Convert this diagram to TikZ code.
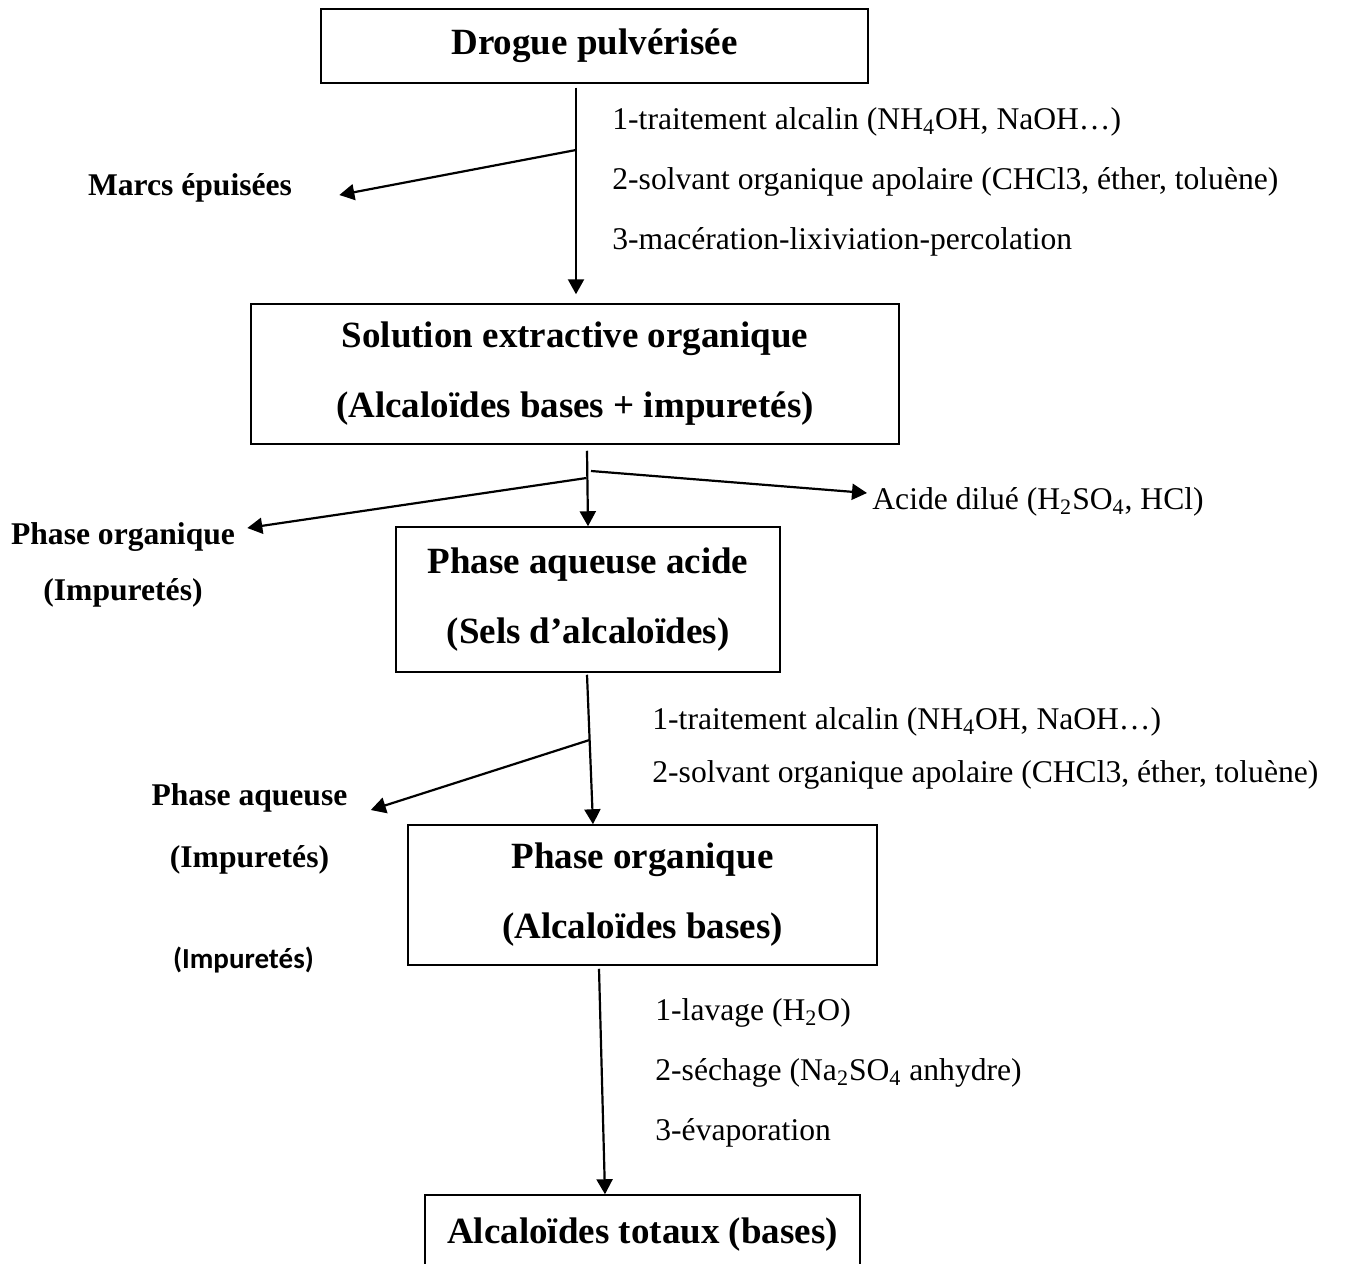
\documentclass[tikz,border=0pt]{standalone}
\usepackage{fontspec}
\setmainfont{Liberation Serif}
\newfontfamily\carlito{Carlito}
\usetikzlibrary{arrows.meta,positioning}

\tikzset{
  etape/.style={draw, line width=0.75pt, align=center, inner sep=0pt,
    font=\bfseries\fontsize{18.5}{35}\selectfont},
  consigne/.style={anchor=west, inner sep=0pt, font=\fontsize{15.8}{19}\selectfont},
  residu/.style={inner sep=0pt, font=\bfseries\fontsize{15.8}{19}\selectfont},
  flux/.style={->, line width=1.1pt},
}

\begin{document}
\begin{tikzpicture}[x=0.5pt,y=-0.5pt,>={Triangle[length=7.5pt,width=8pt]},node distance=28pt,on grid]
        \useasboundingbox (0,0) rectangle (1348,1263);
        \clip (0,0) rectangle (1348,1263);
        \node[etape, minimum width=273.5pt, minimum height=37pt] (drogue) at (594.5,46) {Drogue pulvérisée};
        \node[etape, minimum width=324pt, minimum height=70pt] (solution) at (575,374) {Solution extractive organique\\(Alcaloïdes bases + impuretés)};
        \node[etape, minimum width=192pt, minimum height=72.5pt] (aqueuse) at (588,599.5) {Phase aqueuse acide\\(Sels d’alcaloïdes)};
        \node[etape, minimum width=234.5pt, minimum height=70pt] (orgbox) at (642.5,895) {Phase organique\\(Alcaloïdes bases)};
        \node[etape, minimum width=217.5pt, minimum height=40pt] (totaux) at (642.5,1235) {Alcaloïdes totaux (bases)};

        \node[residu] (marcs) at (190,188) {Marcs épuisées};
        \node[residu] (phorg) at (123,537) {Phase organique};
        \node[residu] (impur1) [below=28pt of phorg] {(Impuretés)};
        \node[residu] (phaq) at (249.5,798) {Phase aqueuse};
        \node[residu] (impur2) [below=31pt of phaq] {(Impuretés)};
        \node[residu, font=\carlito\bfseries\fontsize{14.5}{17}\selectfont] (impur3) [below=50pt of impur2, xshift=-3pt] {(Impuretés)};

        \node[consigne] (alc1) at (612,122) {1-traitement alcalin (NH\textsubscript{4}OH, NaOH…)};
        \node[consigne] (solv1) at (612,182) {2-solvant organique apolaire (CHCl3, éther, toluène)};
        \node[consigne] (macer) at (612,242) {3-macération-lixiviation-percolation};
        \node[consigne] (acide) at (872,502) {Acide dilué (H\textsubscript{2}SO\textsubscript{4}, HCl)};
        \node[consigne] (alc2) at (652,722) {1-traitement alcalin (NH\textsubscript{4}OH, NaOH…)};
        \node[consigne] (solv2) at (652,775) {2-solvant organique apolaire (CHCl3, éther, toluène)};
        \node[consigne] (lavage) at (655,1013) {1-lavage (H\textsubscript{2}O)};
        \node[consigne] (sechage) at (655,1073) {2-séchage (Na\textsubscript{2}SO\textsubscript{4} anhydre)};
        \node[consigne] (evap) at (655,1133) {3-évaporation};

        \coordinate (br1) at (576,150);
        \coordinate (br2g) at (586.5,478);
        \coordinate (br2d) at (591,471);
        \coordinate (br3) at (589.5,740);

        \draw[flux] ([xshift=-9.25pt,yshift=-2pt]drogue.south) -- ([xshift=0.5pt,yshift=4.5pt]solution.north);
        \draw[flux] (br1) -- ([xshift=23.5pt,yshift=-3.5pt]marcs.east);
        \draw[flux] ([xshift=6pt,yshift=-3pt]solution.south) -- (aqueuse.north);
        \draw[flux] (br2g) -- ([xshift=6pt,yshift=4.5pt]phorg.east);
        \draw[flux] (br2d) -- ([xshift=-2.5pt,yshift=4.5pt]acide.west);
        \draw[flux] ([xshift=-0.5pt,yshift=-1pt]aqueuse.south) -- ([xshift=-24.75pt]orgbox.north);
        \draw[flux] (br3) -- ([xshift=11.5pt,yshift=-6pt]phaq.east);
        \draw[flux] ([xshift=-21.75pt,yshift=-1.5pt]orgbox.south) -- ([xshift=-18.75pt]totaux.north);
    \end{tikzpicture}
\end{document}
